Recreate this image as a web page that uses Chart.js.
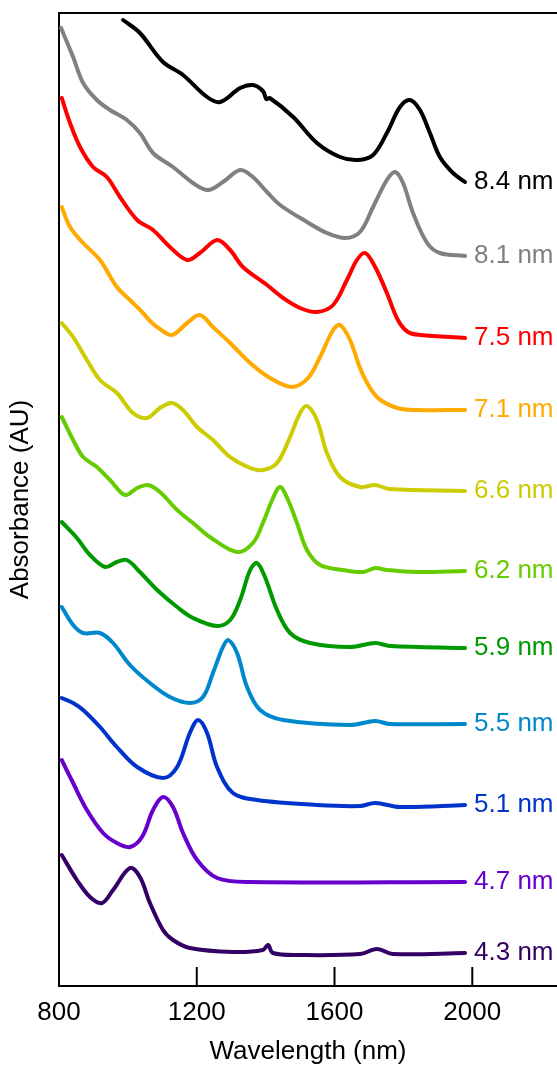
<!DOCTYPE html>
<html lang="en">
<head>
  <meta charset="UTF-8" />
  <title>Absorbance vs Wavelength</title>
  <script src="https://cdn.jsdelivr.net/npm/chart.js"></script>
  <style>
    html, body { margin: 0; padding: 0; background: #fff; }
    .chart-box { width: 557px; height: 1065px; }
  </style>
</head>
<body>
  <div class="chart-box"><canvas id="absChart"></canvas></div>

  <script>
    // wavelength (nm) / offset absorbance pairs
    const wl84 = [986, 1035, 1102, 1160, 1230, 1268, 1326, 1363, 1392, 1402, 1412, 1480, 1549, 1616, 1668, 1712, 1752, 1790, 1819, 1848, 1877, 1906, 1944, 1979];
    const ab84 = [9.66, 9.53, 9.24, 9.11, 8.89, 8.84, 8.98, 9.01, 8.95, 8.87, 8.88, 8.69, 8.43, 8.29, 8.26, 8.31, 8.53, 8.79, 8.86, 8.76, 8.53, 8.29, 8.13, 8.04];

    const wl81 = [806, 841, 870, 910, 948, 997, 1035, 1073, 1131, 1189, 1233, 1276, 1326, 1363, 1404, 1442, 1520, 1578, 1631, 1674, 1712, 1752, 1776, 1799, 1828, 1869, 1906, 1979];
    const ab81 = [9.58, 9.29, 9.03, 8.86, 8.76, 8.66, 8.53, 8.33, 8.19, 8.03, 7.96, 8.04, 8.16, 8.09, 7.94, 7.81, 7.64, 7.53, 7.48, 7.54, 7.79, 8.06, 8.14, 8.03, 7.73, 7.43, 7.33, 7.30];

    const wl75 = [808, 832, 861, 899, 939, 977, 1027, 1073, 1122, 1172, 1209, 1259, 1297, 1334, 1404, 1451, 1500, 1549, 1596, 1636, 1665, 1689, 1718, 1752, 1784, 1813, 1849, 1979];
    const ab75 = [8.88, 8.63, 8.39, 8.19, 8.09, 7.89, 7.66, 7.56, 7.39, 7.26, 7.33, 7.46, 7.36, 7.19, 7.01, 6.88, 6.78, 6.74, 6.81, 7.06, 7.26, 7.33, 7.19, 6.93, 6.66, 6.54, 6.51, 6.48];

    const wl71 = [808, 832, 870, 919, 968, 1006, 1044, 1064, 1093, 1128, 1172, 1209, 1247, 1297, 1355, 1413, 1477, 1523, 1558, 1596, 1616, 1645, 1680, 1723, 1782, 1840, 1979];
    const ab71 = [7.79, 7.59, 7.43, 7.26, 6.99, 6.86, 6.73, 6.65, 6.57, 6.51, 6.63, 6.71, 6.59, 6.43, 6.23, 6.08, 5.99, 6.08, 6.29, 6.56, 6.61, 6.46, 6.13, 5.89, 5.78, 5.76, 5.76];

    const wl66 = [808, 841, 881, 919, 968, 1015, 1056, 1093, 1128, 1160, 1201, 1247, 1297, 1355, 1392, 1433, 1471, 1500, 1520, 1549, 1578, 1616, 1674, 1718, 1760, 1979];
    const ab66 = [6.63, 6.49, 6.26, 6.06, 5.93, 5.73, 5.68, 5.78, 5.83, 5.76, 5.59, 5.46, 5.29, 5.18, 5.16, 5.23, 5.49, 5.73, 5.80, 5.66, 5.33, 5.09, 4.99, 5.01, 4.97, 4.95];

    const wl62 = [808, 841, 870, 910, 948, 992, 1027, 1058, 1093, 1143, 1189, 1238, 1317, 1363, 1392, 1419, 1442, 1465, 1491, 1520, 1558, 1625, 1683, 1718, 1752, 1840, 1979];
    const ab62 = [5.69, 5.46, 5.29, 5.19, 5.06, 4.91, 4.98, 5.01, 4.94, 4.76, 4.63, 4.49, 4.34, 4.43, 4.63, 4.86, 4.99, 4.86, 4.63, 4.36, 4.21, 4.16, 4.14, 4.18, 4.16, 4.14, 4.15];

    const wl59 = [808, 852, 890, 934, 968, 997, 1035, 1085, 1143, 1189, 1259, 1297, 1326, 1355, 1375, 1398, 1433, 1471, 1529, 1645, 1718, 1761, 1979];
    const ab59 = [4.64, 4.48, 4.31, 4.19, 4.24, 4.26, 4.14, 3.96, 3.79, 3.68, 3.60, 3.66, 3.86, 4.16, 4.23, 4.09, 3.76, 3.53, 3.43, 3.39, 3.43, 3.40, 3.38];

    const wl55 = [808, 841, 870, 919, 957, 1006, 1064, 1122, 1180, 1218, 1247, 1276, 1291, 1317, 1346, 1384, 1451, 1645, 1718, 1761, 1979];
    const ab55 = [3.79, 3.61, 3.53, 3.53, 3.43, 3.21, 3.03, 2.89, 2.83, 2.89, 3.13, 3.39, 3.46, 3.33, 2.99, 2.76, 2.66, 2.61, 2.65, 2.62, 2.62];

    const wl51 = [808, 841, 870, 919, 968, 1027, 1102, 1143, 1180, 1204, 1230, 1259, 1305, 1375, 1549, 1674, 1718, 1790, 1979];
    const ab51 = [2.88, 2.83, 2.76, 2.59, 2.39, 2.19, 2.08, 2.19, 2.53, 2.66, 2.53, 2.19, 1.93, 1.86, 1.81, 1.80, 1.83, 1.79, 1.81];

    const wl47 = [808, 841, 881, 928, 968, 1006, 1041, 1073, 1102, 1131, 1160, 1201, 1259, 1355, 1979];
    const ab47 = [2.26, 2.03, 1.76, 1.53, 1.43, 1.39, 1.49, 1.76, 1.89, 1.79, 1.53, 1.26, 1.08, 1.04, 1.04];

    const wl43 = [808, 852, 890, 925, 957, 1006, 1035, 1064, 1102, 1131, 1180, 1305, 1392, 1407, 1421, 1500, 1674, 1723, 1770, 1979];
    const ab43 = [1.31, 1.06, 0.89, 0.83, 0.96, 1.18, 1.09, 0.83, 0.56, 0.46, 0.38, 0.34, 0.36, 0.41, 0.33, 0.31, 0.32, 0.37, 0.32, 0.33];

    const sizeLabels = ['8.4 nm', '8.1 nm', '7.5 nm', '7.1 nm', '6.6 nm', '6.2 nm', '5.9 nm', '5.5 nm', '5.1 nm', '4.7 nm', '4.3 nm'];
    const xTicks = [800, 1200, 1600, 2000];

    const seriesWl = [wl84, wl81, wl75, wl71, wl66, wl62, wl59, wl55, wl51, wl47, wl43];
    const seriesAb = [ab84, ab81, ab75, ab71, ab66, ab62, ab59, ab55, ab51, ab47, ab43];
    const colors = ['#000000', '#808080', '#ff0000', '#ffaa00', '#cccc00', '#66cc00', '#009900', '#0088cc', '#0033cc', '#6600cc', '#330066'];

    const FONT = "'Liberation Sans', Arial, sans-serif";

    const datasets = sizeLabels.map((lab, i) => ({
      label: lab,
      data: seriesWl[i].map((w, j) => ({ x: w, y: seriesAb[i][j] })),
      borderColor: colors[i],
      borderWidth: 4,
      borderJoinStyle: 'round',
      borderCapStyle: 'round',
      pointRadius: 0,
      fill: false,
      tension: 0.35
    }));

    // frame top line, inward tick marks and end-of-line size labels
    const decorations = {
      id: 'decorations',
      afterDatasetsDraw(chart) {
        const { ctx, chartArea, scales } = chart;
        ctx.save();
        ctx.strokeStyle = '#000';
        ctx.lineWidth = 2;
        ctx.beginPath();
        ctx.moveTo(chartArea.left - 1, chartArea.top);
        ctx.lineTo(chartArea.right, chartArea.top);
        xTicks.forEach(v => {
          const px = scales.x.getPixelForValue(v);
          ctx.moveTo(px, chartArea.bottom);
          ctx.lineTo(px, chartArea.bottom - 19);
        });
        ctx.stroke();

        ctx.font = '26px ' + FONT;
        ctx.textBaseline = 'middle';
        ctx.textAlign = 'left';
        chart.data.datasets.forEach((ds, i) => {
          const pts = chart.getDatasetMeta(i).data;
          const last = pts[pts.length - 1];
          ctx.fillStyle = ds.borderColor;
          ctx.fillText(ds.label, last.x + 9, last.y);
        });
        ctx.restore();
      }
    };

    const ctx = document.getElementById('absChart').getContext('2d');
    new Chart(ctx, {
      type: 'line',
      data: { datasets },
      options: {
        responsive: true,
        maintainAspectRatio: false,
        animation: false,
        layout: { padding: { top: 13, left: 0, right: 0, bottom: 0 } },
        plugins: { legend: { display: false }, tooltip: { enabled: false } },
        scales: {
          x: {
            type: 'linear',
            min: 800,
            max: 2246,
            afterBuildTicks: s => { s.ticks = xTicks.map(v => ({ value: v })); },
            afterFit: s => { s.height = 79; },
            grid: { display: false, drawTicks: false },
            border: { display: true, color: '#000', width: 2 },
            ticks: {
              color: '#000',
              padding: 11,
              maxRotation: 0,
              font: { family: FONT, size: 26 },
              callback: v => String(v)
            },
            title: {
              display: true,
              text: 'Wavelength (nm)',
              color: '#000',
              font: { family: FONT, size: 26, lineHeight: 1 },
              padding: { top: 0, bottom: 0 }
            }
          },
          y: {
            min: 0,
            max: 9.73,
            afterFit: s => { s.width = 59; },
            grid: { display: false, drawTicks: false },
            border: { display: true, color: '#000', width: 2 },
            ticks: { display: false },
            title: {
              display: true,
              text: 'Absorbance (AU)',
              color: '#000',
              font: { family: FONT, size: 26, lineHeight: 1 },
              padding: { top: 8, bottom: 0 }
            }
          }
        }
      },
      plugins: [decorations]
    });
  </script>
</body>
</html>
